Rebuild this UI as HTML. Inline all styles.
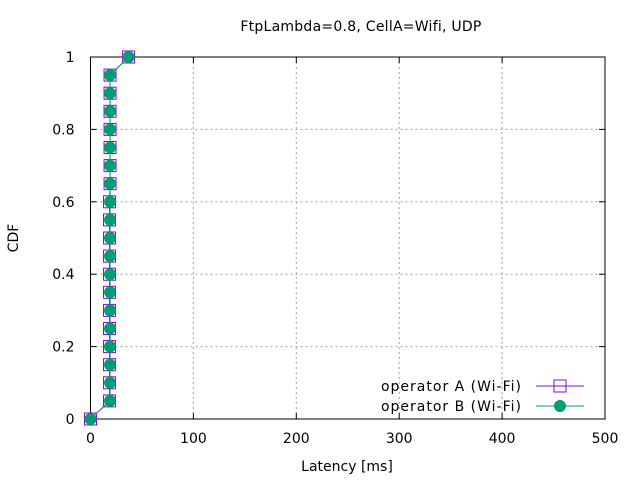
<!DOCTYPE html>
<html><head><meta charset="utf-8"><style>
body{margin:0;background:#fff}
svg{font-family:"DejaVu Sans","Liberation Sans",sans-serif;font-size:14px}
.leg{letter-spacing:1px}
</style></head><body>
<svg id="chart" width="640" height="480" viewBox="0 0 640 480" xmlns="http://www.w3.org/2000/svg">
<rect width="640" height="480" fill="#fff"/>
<text x="361" y="31" text-anchor="middle" style="letter-spacing:0.25px">FtpLambda=0.8, CellA=Wifi, UDP</text>
<text x="347" y="471" text-anchor="middle">Latency [ms]</text>
<text x="18" y="238" text-anchor="middle" transform="rotate(-90 18 238)">CDF</text>
<g id="grid"></g><g id="axes"></g><g id="series"></g><g id="legend"></g>
</svg>
<script>
const xTicks=[0,100,200,300,400,500];
const yTicks=[0,0.2,0.4,0.6,0.8,1];
const yLabels=["0","0.2","0.4","0.6","0.8","1"];
const cdfLevels=[0,0.05,0.1,0.15,0.2,0.25,0.3,0.35,0.4,0.45,0.5,0.55,0.6,0.65,0.7,0.75,0.8,0.85,0.9,0.95,1];
const latencyA=[0,18.5,18.5,18.5,18.5,18.5,18.5,18.5,18.5,18.5,18.5,18.5,18.5,19,19,19,19,19,19,19,37];
const latencyB=[0,19,19,19,19,19,19,19,19,19,19,19,19,19,19,19,19,19,19,19,37];
const L=90.5,R=605,T=57,B=419;
const X=v=>L+(v/500)*(R-L), Y=v=>B-v*(B-T);
const NS="http://www.w3.org/2000/svg";
function mk(tag,parent,attrs){const e=document.createElementNS(NS,tag);for(const k in attrs)e.setAttribute(k,attrs[k]);document.getElementById(parent).appendChild(e);return e;}
xTicks.forEach((t,i)=>{
  if(i>0&&i<xTicks.length-1){const g=mk('line','grid',{x1:X(t),x2:X(t),y1:T,y2:B,stroke:'#a0a0a0','stroke-dasharray':'2,3'});
  
  }
  const tk=mk('line','axes',{x1:X(t),x2:X(t),y1:B,y2:B-6,stroke:'#000'});
  
  
  const tk2=mk('line','axes',{x1:X(t),x2:X(t),y1:T,y2:T+6,stroke:'#000'});
  
  
  const tx=mk('text','axes',{x:X(t),y:B+24,'text-anchor':'middle'});tx.textContent=t;
  
  
});
yTicks.forEach((t,i)=>{
  if(i>0&&i<yTicks.length-1){const g=mk('line','grid',{x1:L,x2:R,y1:Y(t),y2:Y(t),stroke:'#a0a0a0','stroke-dasharray':'2,3'});
  
  }
  const tk=mk('line','axes',{x1:L,x2:L+6,y1:Y(t),y2:Y(t),stroke:'#000'});
  
  
  const tk2=mk('line','axes',{x1:R,x2:R-6,y1:Y(t),y2:Y(t),stroke:'#000'});
  
  
  const tx=mk('text','axes',{x:L-16,y:Y(t)+5,'text-anchor':'end'});tx.textContent=yLabels[i];
  
  
});
const fr=mk('rect','axes',{x:L,y:T,width:R-L,height:B-T,fill:'none',stroke:'#000'});


function series(lat,color,marker,name){
  const pl=mk('polyline','series',{points:lat.map((v,i)=>X(v)+','+Y(cdfLevels[i])).join(' '),fill:'none',stroke:color,'stroke-width':1});
  
  
  lat.forEach((v,i)=>{
    let m;
    if(marker==='sq') m=mk('rect','series',{x:X(v)-6,y:Y(cdfLevels[i])-6,width:12,height:12,fill:'none',stroke:color,'stroke-width':1});
    else m=mk('circle','series',{cx:X(v),cy:Y(cdfLevels[i]),r:6,fill:color});
    
    
  });
}
series(latencyA,'#9400d3','sq','operator-a');
series(latencyB,'#009e73','ci','operator-b');
[['operator A (Wi-Fi)','#9400d3','sq',386],['operator B (Wi-Fi)','#009e73','ci',406]].forEach(([lab,c,m,y])=>{
  const t=mk('text','legend',{x:522,y:y+5,'text-anchor':'end','class':'leg'});t.textContent=lab;
  
  
  const l=mk('line','legend',{x1:536,x2:584,y1:y,y2:y,stroke:c});
  
  
  const k=m==='sq'?mk('rect','legend',{x:554,y:y-6,width:12,height:12,fill:'none',stroke:c}):mk('circle','legend',{cx:560,cy:y,r:6,fill:c});
  
  
});
</script>
</body></html>
